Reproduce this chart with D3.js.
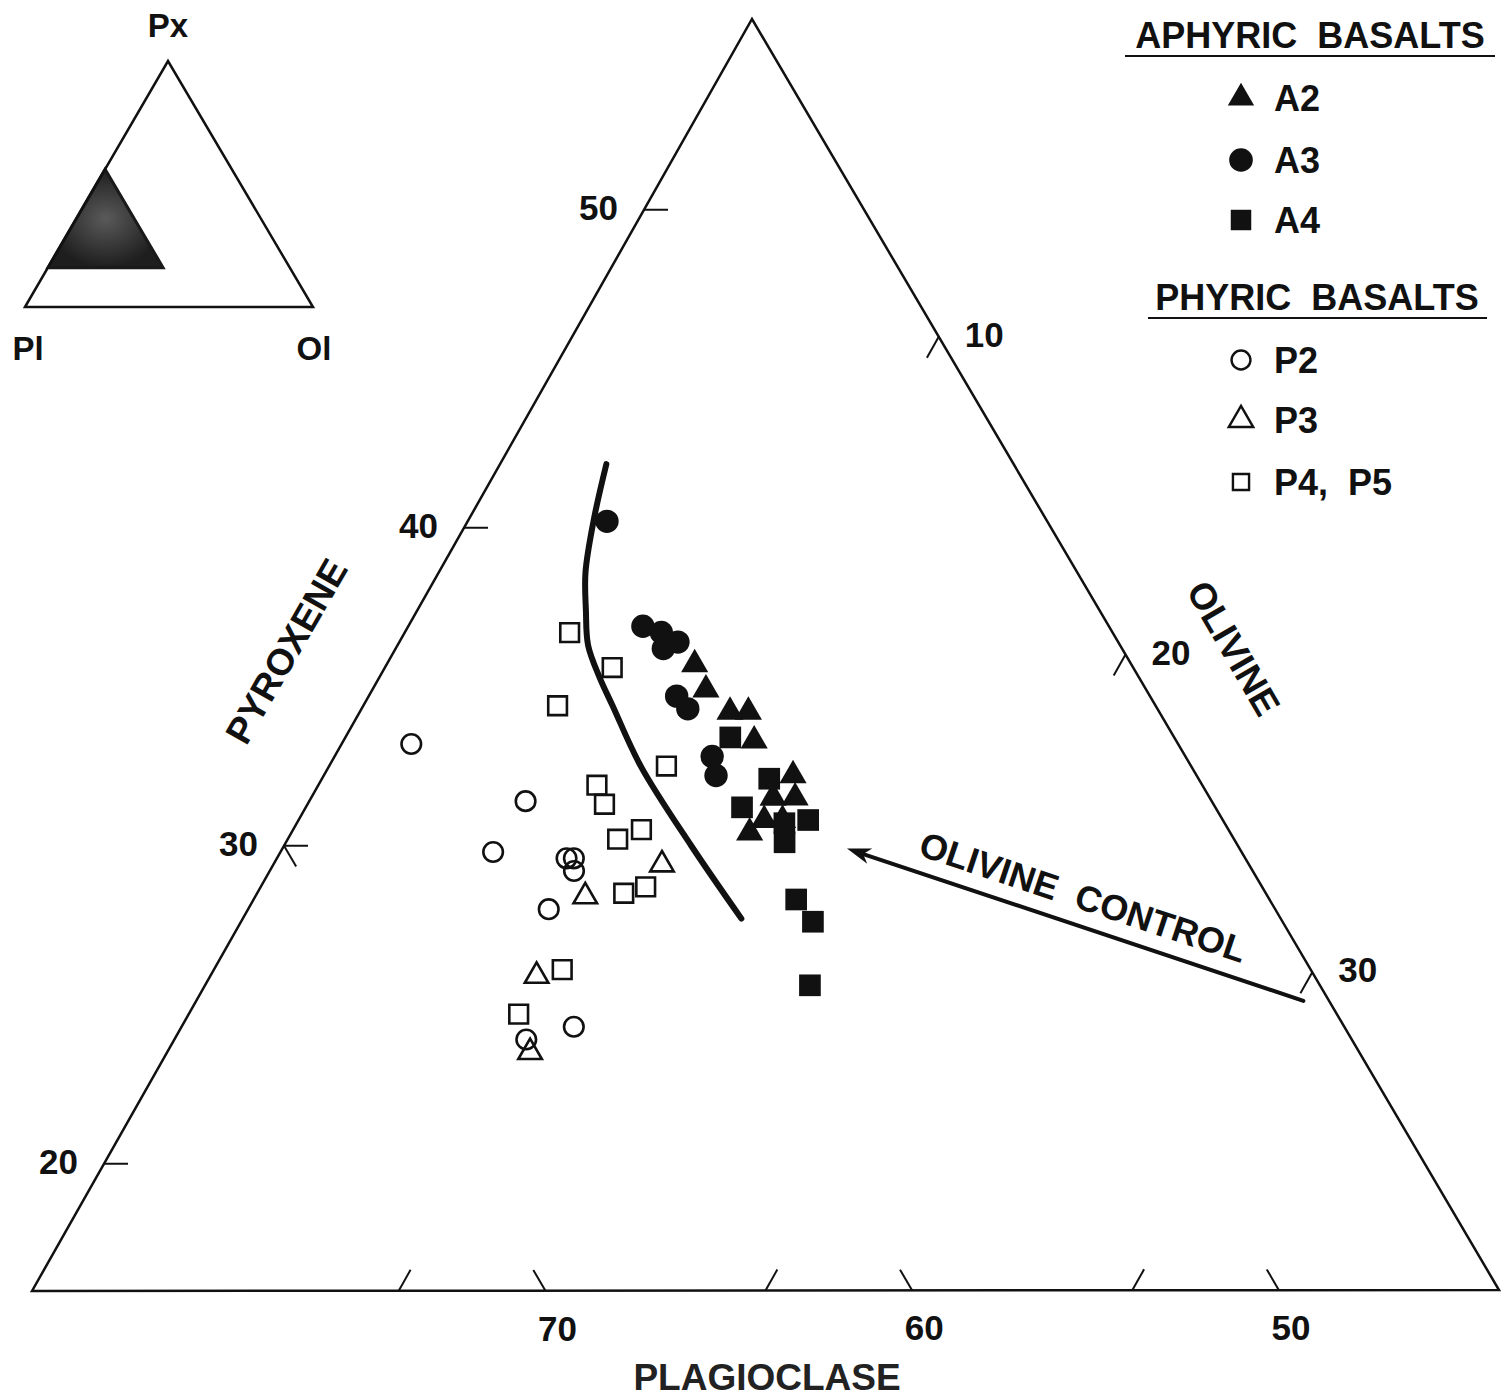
<!DOCTYPE html>
<html>
<head>
<meta charset="utf-8">
<script src="https://cdn.jsdelivr.net/npm/d3@7"></script>
<style>
body { margin: 0; background: #fff; }
text { font-family: "Liberation Sans", Arial, sans-serif; font-weight: bold; fill: #111; }
</style>
</head>
<body>
<script>
var w = 1506;
var h = 1397;

// window of the ternary that is shown (wt %)
var pxDomain = [16, 56];
var olDomain = [0, 40];

// samples as [pyroxene, olivine]; plagioclase = 100 - px - ol
var a2 = [[35.7, 8.4], [34.9, 9.1], [34.2, 10.1], [34.2, 10.6], [33.3, 11.2], [32.2, 12.8],
          [31.5, 12.6], [31.5, 13.2], [30.8, 12.7], [30.8, 13.2], [30.4, 12.5]];
var a3 = [[40.2, 3.8], [36.9, 6.4], [36.7, 7.0], [36.2, 7.3], [36.4, 7.6], [34.7, 8.4],
          [34.3, 8.9], [32.8, 10.3], [32.2, 10.7]];
var a4 = [[33.4, 10.5], [32.1, 12.2], [31.2, 11.9], [30.8, 13.9], [30.7, 13.3], [30.1, 13.6],
          [28.3, 14.8], [27.6, 15.6], [25.6, 16.5]];
var p2 = [[33.2, 1.9], [31.4, 5.9], [29.8, 5.8], [29.6, 7.9], [29.6, 8.1], [29.2, 8.3],
          [28.0, 8.2], [24.3, 10.7], [23.9, 9.6]];
var p3 = [[28.4, 9.0], [29.4, 10.6], [25.9, 8.9], [23.5, 9.9]];
var p45 = [[36.7, 4.5], [35.6, 6.2], [34.4, 5.3], [32.5, 9.2], [31.9, 7.6], [31.3, 8.1],
           [30.2, 9.0], [30.5, 9.5], [28.5, 10.0], [28.7, 10.5], [26.1, 9.5], [24.7, 9.0]];

// dividing curve and olivine control vector, [px, ol]
var divideCurve = [[42.0, 2.9], [40.3, 3.4], [38.6, 4.0], [37.4, 4.6], [36.3, 5.2], [35.3, 6.0],
                   [34.4, 6.8], [32.5, 8.5], [30.0, 11.1], [27.7, 13.6]];
var olivineArrow = [[25.1, 30.2], [29.9, 15.4]];

var pxTicks = [20, 30, 40, 50];
var olTicks = [10, 20, 30];
var plTicks = [70, 60, 50];
var plLeftTicks = [70];

var legendGroups = ["APHYRIC  BASALTS", "PHYRIC  BASALTS"];
var legendNames = ["A2", "A3", "A4", "P2", "P3", "P4,  P5"];

var svg = d3.select("body")
    .append("svg")
    .attr("width", w)
    .attr("height", h);

svg.append("rect").attr("width", w).attr("height", h).attr("fill", "#fff");

// corners of the main triangle: Pl (bottom left), Px (apex), Ol (bottom right)
var L = [32, 1291], A = [752, 19], R = [1499, 1290];

var aScale = d3.scaleLinear().domain(pxDomain).range([0, 1]);
var rScale = d3.scaleLinear().domain(olDomain).range([0, 1]);

function proj(px, ol) {
    var a = aScale(px), r = rScale(ol), l = 1 - a - r;
    return [l * L[0] + a * A[0] + r * R[0], l * L[1] + a * A[1] + r * R[1]];
}
function unit(p, q) {
    var dx = q[0] - p[0], dy = q[1] - p[1], n = Math.sqrt(dx * dx + dy * dy);
    return [dx / n, dy / n];
}

var ink = "#111";

//triangle
svg.append("path")
    .attr("d", "M" + L + "L" + A + "L" + R + "Z")
    .attr("fill", "none")
    .attr("stroke", ink)
    .attr("stroke-width", 2.5);

//ticks
var tickLen = 24;
var ticks = [];
pxTicks.forEach(function(v) { ticks.push({p: proj(v, olDomain[0]), d: unit(L, R)}); });
plTicks.forEach(function(v) { ticks.push({p: proj(pxDomain[0], 100 - pxDomain[0] - v), d: unit(R, A)}); });
plLeftTicks.forEach(function(v) { ticks.push({p: proj(100 - v, 0), d: unit(A, R)}); });
olTicks.forEach(function(v) {
    ticks.push({p: proj(pxDomain[0], v), d: unit(L, A)});
    ticks.push({p: proj(pxDomain[1] - v, v), d: unit(A, L)});
});

svg.append("g").selectAll("line")
    .data(ticks)
    .enter()
    .append("line")
    .attr("x1", d => d.p[0])
    .attr("y1", d => d.p[1])
    .attr("x2", d => d.p[0] + d.d[0] * tickLen)
    .attr("y2", d => d.p[1] + d.d[1] * tickLen)
    .attr("stroke", ink)
    .attr("stroke-width", 2);

//tick labels
var tl = svg.append("g").attr("font-size", 35);
tl.selectAll(".pxl").data(pxTicks).enter().append("text")
    .attr("x", d => proj(d, 0)[0] - 26)
    .attr("y", d => proj(d, 0)[1] + 10)
    .attr("text-anchor", "end")
    .text(d => d);
tl.selectAll(".oll").data(olTicks).enter().append("text")
    .attr("x", d => proj(pxDomain[1] - d, d)[0] + 26)
    .attr("y", d => proj(pxDomain[1] - d, d)[1] + 10)
    .text(d => d);
tl.selectAll(".pll").data(plTicks).enter().append("text")
    .attr("x", d => proj(pxDomain[0], 100 - pxDomain[0] - d)[0] + 12)
    .attr("y", d => proj(pxDomain[0], 100 - pxDomain[0] - d)[1] + 50)
    .attr("text-anchor", "middle")
    .text(d => d);

//axis titles
var at = svg.append("g").attr("font-size", 37).attr("text-anchor", "middle");
at.append("text").text("PYROXENE")
    .attr("transform", "translate(286,651) rotate(-60)")
    .attr("dy", "0.36em");
at.append("text").text("OLIVINE")
    .attr("transform", "translate(1234,648) rotate(60)")
    .attr("dy", "0.36em");
at.append("text").text("PLAGIOCLASE")
    .attr("x", 767)
    .attr("y", 1390)
    .style("fill", "#222");

//dividing curve
svg.append("path")
    .datum(divideCurve)
    .attr("d", d3.line()
        .x(d => proj(d[0], d[1])[0])
        .y(d => proj(d[0], d[1])[1])
        .curve(d3.curveCatmullRom.alpha(0.5)))
    .attr("fill", "none")
    .attr("stroke", ink)
    .attr("stroke-width", 6)
    .attr("stroke-linecap", "round");

//olivine control arrow
var tail = proj(olivineArrow[0][0], olivineArrow[0][1]);
var tip = proj(olivineArrow[1][0], olivineArrow[1][1]);
var u = unit(tail, tip), n = [-u[1], u[0]];
svg.append("line")
    .attr("x1", tail[0]).attr("y1", tail[1])
    .attr("x2", tip[0] - u[0] * 14).attr("y2", tip[1] - u[1] * 14)
    .attr("stroke", ink)
    .attr("stroke-width", 4)
    .attr("stroke-linecap", "round");
svg.append("path")
    .attr("d", "M" + tip +
        "L" + [tip[0] - u[0] * 24 + n[0] * 8, tip[1] - u[1] * 24 + n[1] * 8] +
        "L" + [tip[0] - u[0] * 17, tip[1] - u[1] * 17] +
        "L" + [tip[0] - u[0] * 24 - n[0] * 8, tip[1] - u[1] * 24 - n[1] * 8] + "Z")
    .attr("fill", ink);
var mid = [(tail[0] + tip[0]) / 2, (tail[1] + tip[1]) / 2];
var ang = Math.atan2(tail[1] - tip[1], tail[0] - tip[0]) * 180 / Math.PI;
svg.append("text")
    .text("OLIVINE\u00a0\u00a0CONTROL")
    .attr("font-size", 36)
    .attr("text-anchor", "middle")
    .attr("transform", "translate(" + (mid[0] + 8) + "," + (mid[1] - 28) + ") rotate(" + ang + ")")
    .attr("dy", "0.36em");

//markers
var styles = {
    A2: {type: d3.symbolTriangle, size: 320, filled: true},
    A3: {type: d3.symbolCircle, size: 430, filled: true},
    A4: {type: d3.symbolSquare, size: 470, filled: true},
    P2: {type: d3.symbolCircle, size: 300, filled: false},
    P3: {type: d3.symbolTriangle, size: 240, filled: false},
    P45: {type: d3.symbolSquare, size: 350, filled: false}
};
var series = [
    {key: "P2", data: p2}, {key: "P3", data: p3}, {key: "P45", data: p45},
    {key: "A3", data: a3}, {key: "A4", data: a4}, {key: "A2", data: a2}
];

series.forEach(function(s) {
    var st = styles[s.key];
    svg.append("g").selectAll("path")
        .data(s.data)
        .enter()
        .append("path")
        .attr("d", d3.symbol().type(st.type).size(st.size))
        .attr("transform", d => "translate(" + proj(d[0], d[1]) + ")")
        .attr("fill", st.filled ? ink : "none")
        .attr("stroke", ink)
        .attr("stroke-width", st.filled ? 0 : 2.6);
});

//legend
var lg = svg.append("g");
var heads = [{t: legendGroups[0], x: 1310, y: 48, x1: 1125, x2: 1495},
             {t: legendGroups[1], x: 1317, y: 310, x1: 1148, x2: 1487}];
heads.forEach(function(hd) {
    lg.append("text").text(hd.t.replace(/ /g, "\u00a0")).attr("x", hd.x).attr("y", hd.y)
        .attr("font-size", 36).attr("text-anchor", "middle");
    lg.append("line").attr("x1", hd.x1).attr("x2", hd.x2)
        .attr("y1", hd.y + 8).attr("y2", hd.y + 8)
        .attr("stroke", ink).attr("stroke-width", 2);
});
var legendKeys = ["A2", "A3", "A4", "P2", "P3", "P45"];
var legendY = [98, 160, 220, 360, 420, 482];
var legendSize = {A2: 300, A3: 440, A4: 420, P2: 280, P3: 260, P45: 260};
legendKeys.forEach(function(k, i) {
    var st = styles[k];
    lg.append("path")
        .attr("d", d3.symbol().type(st.type).size(legendSize[k]))
        .attr("transform", "translate(1241," + legendY[i] + ")")
        .attr("fill", st.filled ? ink : "none")
        .attr("stroke", ink)
        .attr("stroke-width", st.filled ? 0 : 2.4);
    lg.append("text").text(legendNames[i].replace(/ /g, "\u00a0"))
        .attr("x", 1274).attr("y", legendY[i] + 13)
        .attr("font-size", 36);
});

//inset
var IPl = [25, 307], IPx = [168, 61], IOl = [313, 307];
function iproj(px, ol) {
    var a = px / 100, r = ol / 100, l = 1 - a - r;
    return [l * IPl[0] + a * IPx[0] + r * IOl[0], l * IPl[1] + a * IPx[1] + r * IOl[1]];
}
var defs = svg.append("defs");
var gr = defs.append("radialGradient").attr("id", "shade");
gr.append("stop").attr("offset", "0%").attr("stop-color", "#5a5a5a");
gr.append("stop").attr("offset", "100%").attr("stop-color", "#1e1e1e");
var shaded = [iproj(pxDomain[0], olDomain[0]), iproj(pxDomain[1], olDomain[0]), iproj(pxDomain[0], olDomain[1])];
svg.append("path")
    .attr("d", "M" + shaded[0] + "L" + shaded[1] + "L" + shaded[2] + "Z")
    .attr("fill", "url(#shade)")
    .attr("stroke", "#1a1a1a")
    .attr("stroke-width", 3);
svg.append("path")
    .attr("d", "M" + IPl + "L" + IPx + "L" + IOl + "Z")
    .attr("fill", "none")
    .attr("stroke", ink)
    .attr("stroke-width", 2.5);
var il = svg.append("g").attr("font-size", 33).attr("text-anchor", "middle");
il.append("text").text("Px").attr("x", 168).attr("y", 37);
il.append("text").text("Pl").attr("x", 28).attr("y", 360);
il.append("text").text("Ol").attr("x", 314).attr("y", 360);
</script>
</body>
</html>
